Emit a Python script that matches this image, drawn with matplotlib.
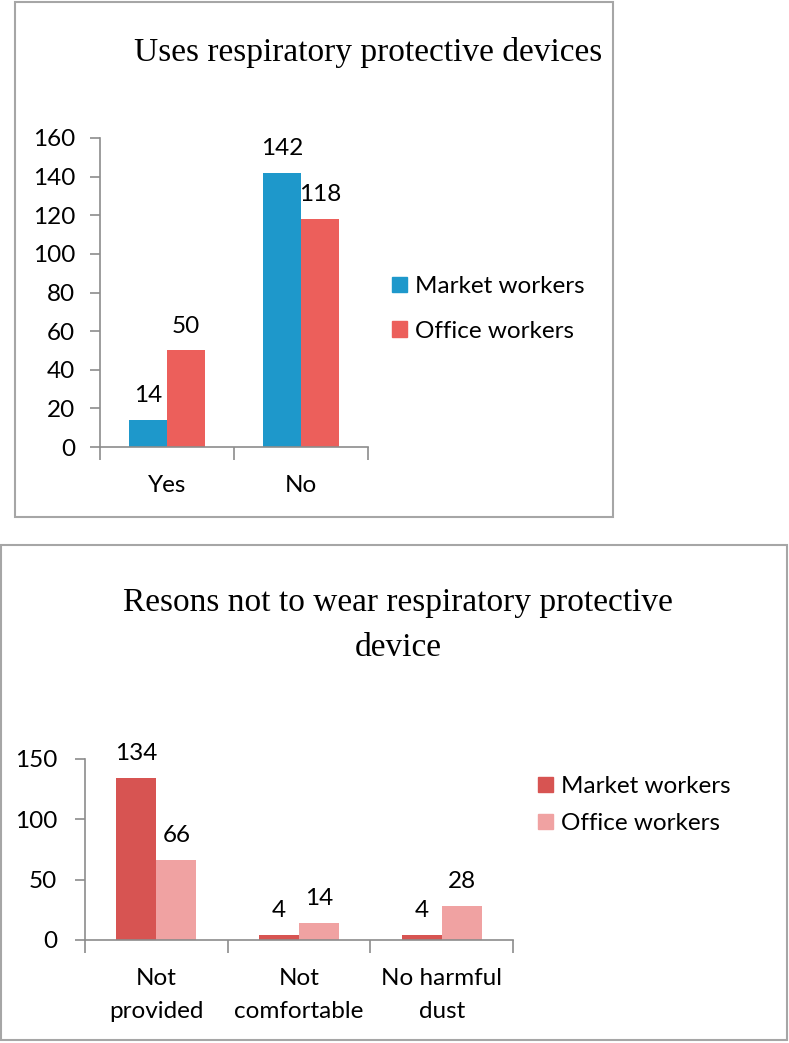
import numpy as np
import matplotlib
matplotlib.use("Agg")
from matplotlib import pyplot as plt
from matplotlib.patches import Rectangle, Patch

# data
use_categories = ["Yes", "No"]
use_market = [14, 142]
use_office = [50, 118]

reason_categories = ["Not\nprovided", "Not\ncomfortable", "No harmful\ndust"]
reason_market = [134, 4, 4]
reason_office = [66, 14, 28]

series_names = ["Market workers", "Office workers"]

SANS = ["Lato", "DejaVu Sans"]
SERIF = ["Liberation Serif", "DejaVu Serif"]
GRID_GRAY = "#8c8c8c"
FS = 17.5

W, H = 789, 1043
fig = plt.figure(figsize=(W / 100, H / 100), dpi=100)


def px_box(x0, y0, x1, y1):
    """pixel box (top-left origin) -> figure rect"""
    return [x0 / W, 1 - y1 / H, (x1 - x0) / W, (y1 - y0) / H]


def frame(x0, y0, x1, y1):
    l, b, w, h = px_box(x0, y0, x1, y1)
    fig.patches.append(Rectangle((l, b), w, h, transform=fig.transFigure,
                                 fill=False, edgecolor="#a6a6a6", lw=1.5))


def bar_panel(rect, cats, market, office, colors, ymax, ystep, ypad):
    ax = fig.add_axes(rect)
    x = np.arange(len(cats))
    bw = 0.28
    b1 = ax.bar(x - bw / 2, market, bw, color=colors[0])
    b2 = ax.bar(x + bw / 2, office, bw, color=colors[1])
    for bars, vals in ((b1, market), (b2, office)):
        for r, v in zip(bars, vals):
            ax.annotate(str(v), (r.get_x() + r.get_width() / 2, r.get_height()),
                        xytext=(0, 10), textcoords="offset points",
                        ha="center", va="bottom", fontsize=FS, family=SANS)
    ax.set_xlim(-0.5, len(cats) - 0.5)
    ax.set_ylim(0, ymax)
    ax.set_yticks(np.arange(0, ymax + 1, ystep))
    ax.set_xticks(x)
    ax.set_xticklabels(cats, family=SANS, fontsize=FS, linespacing=1.7)
    ax.set_xticks(np.arange(-0.5, len(cats)), minor=True)
    ax.tick_params(axis="x", which="major", length=0, pad=20)
    ax.tick_params(axis="x", which="minor", length=9, color=GRID_GRAY, width=1.2)
    ax.tick_params(axis="y", length=7, color=GRID_GRAY, width=1.2, labelsize=FS, pad=ypad)
    for lab in ax.get_yticklabels():
        lab.set_family(SANS)
    for s in ("top", "right"):
        ax.spines[s].set_visible(False)
    for s in ("left", "bottom"):
        ax.spines[s].set_color(GRID_GRAY)
        ax.spines[s].set_linewidth(1.2)
    return ax


# top chart
frame(15, 2, 613, 517)
fig.text(368 / W, 1 - 52 / H, "Uses respiratory protective devices",
         ha="center", va="center", family=SERIF, fontsize=24)
bar_panel(px_box(100, 138, 368, 447), use_categories, use_market, use_office,
          ["#1e98cb", "#ec5f5b"], 160, 20, 11)
fig.legend([Patch(color="#1e98cb"), Patch(color="#ec5f5b")], series_names,
           loc="center left", bbox_to_anchor=(370 / W, 1 - 309 / H),
           frameon=False, prop={"family": SANS, "size": FS},
           handlelength=0.62, handleheight=0.62, handletextpad=0.35, labelspacing=0.98)

# bottom chart
frame(1, 545, 787, 1040)
fig.text(398 / W, 1 - 625 / H, "Resons not to wear respiratory protective\ndevice",
         ha="center", va="center", family=SERIF, fontsize=24, linespacing=1.62)
bar_panel(px_box(85, 759, 513, 940), reason_categories, reason_market, reason_office,
          ["#d75452", "#f0a2a2"], 150, 50, 13)
fig.legend([Patch(color="#d75452"), Patch(color="#f0a2a2")], series_names,
           loc="center left", bbox_to_anchor=(516 / W, 1 - 805 / H),
           frameon=False, prop={"family": SANS, "size": FS},
           handlelength=0.62, handleheight=0.62, handletextpad=0.35, labelspacing=0.66)

fig.savefig("out.png", dpi=100)
